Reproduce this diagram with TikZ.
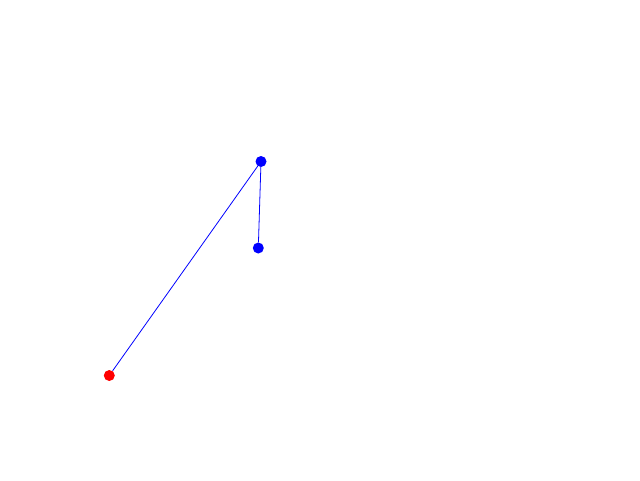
\documentclass[tikz,border=0pt]{standalone}
\begin{document}
\begin{tikzpicture}[x=1pt,y=-1pt,
  dot/.style={circle,inner sep=0pt,minimum size=11pt,fill=#1},
  link/.style={draw=blue,line width=0.8pt}]
\useasboundingbox (0,0) rectangle (640,480);
\node[dot=red] (r) at (109.3,375.5) {};
\node[dot=blue] (t) at (261,161.5) {};
\node[dot=blue] (b) at (258.3,248) {};
\draw[link] (r) -- (t);
\draw[link] (t) -- (b);
\end{tikzpicture}
\end{document}
